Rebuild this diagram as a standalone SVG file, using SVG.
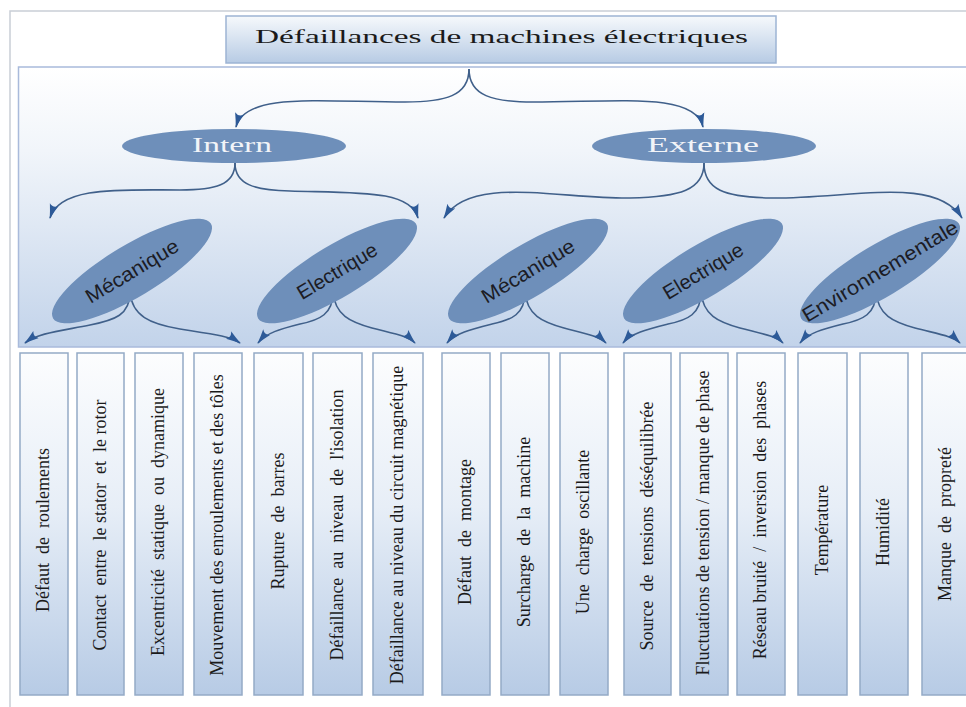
<svg xmlns="http://www.w3.org/2000/svg" width="966" height="707" viewBox="0 0 966 707">
<defs>
<linearGradient id="panelGrad" x1="0" y1="0" x2="0" y2="1">
<stop offset="0" stop-color="#ffffff"/>
<stop offset="0.3" stop-color="#f1f5fa"/>
<stop offset="1" stop-color="#c2d3ea"/>
</linearGradient>
<linearGradient id="boxGrad" x1="0" y1="0" x2="0" y2="1">
<stop offset="0" stop-color="#fcfdfe"/>
<stop offset="0.45" stop-color="#e7eef7"/>
<stop offset="1" stop-color="#b7cbe5"/>
</linearGradient>
<linearGradient id="titleGrad" x1="0" y1="0" x2="0" y2="1">
<stop offset="0" stop-color="#f6f9fc"/>
<stop offset="1" stop-color="#b7cbe4"/>
</linearGradient>
<marker id="ah" viewBox="0 0 15 10" refX="14" refY="5" markerWidth="15" markerHeight="10" markerUnits="userSpaceOnUse" orient="auto">
<path d="M0,0.5 Q7,3 15,5 Q7,7 0,9.5 Q4,5 0,0.5 Z" fill="#2d5a98"/>
</marker>
</defs>
<style>
.frame{fill:#ffffff;stroke:#c9ced6;stroke-width:1.5}
.panel{fill:url(#panelGrad);stroke:#a9badb;stroke-width:1.5}
.box{fill:url(#boxGrad);stroke:#94aac6;stroke-width:1.5}
.title{fill:url(#titleGrad);stroke:#9db4d4;stroke-width:1.5}
.ell{fill:#6e8fba}
.conn{fill:none;stroke:#40608a;stroke-width:1.6;marker-end:url(#ah)}
.bt{font-family:"Liberation Serif","Times New Roman",serif;font-size:18px;fill:#1a1a1a;text-anchor:middle;white-space:pre}
.tt{font-family:"Liberation Serif","Times New Roman",serif;font-size:18px;fill:#1a1a1a}
.et{font-family:"Liberation Serif","Times New Roman",serif;font-size:20px;fill:#f2f4f8}
.rt{font-family:"Liberation Sans",Arial,sans-serif;font-size:20px;fill:#1c1c24;text-anchor:middle}
</style>

<rect class="frame" x="10" y="11" width="970" height="710"/>
<rect class="panel" x="18.5" y="67" width="960" height="280"/>

<g id="title">
<rect class="title" x="226" y="16" width="550" height="47"/>
<text class="tt" x="255" y="43" textLength="493" lengthAdjust="spacingAndGlyphs">Défaillances de machines électriques</text>
</g>

<g id="connectors">
<path class="conn" d="M469,69 C469,96 445,102 405,102 C320,102 245,92 236,127"/>
<path class="conn" d="M469,69 C469,96 493,102 533,102 C620,102 695,92 703,127"/>
<path class="conn" d="M235,163 C235,185 215,190 180,190 C120,190 60,186 50,218"/>
<path class="conn" d="M235,163 C235,185 255,190 290,191 C360,193 410,190 418,218"/>
<path class="conn" d="M704,163 C704,190 680,197 630,198 C560,199 470,175 444,218"/>
<path class="conn" d="M704,163 C704,190 725,197 770,198 C850,199 935,175 962,218"/>
<path class="conn" d="M130,292 C130,315 115,320 90,325 C60,331 38,333 25,343"/>
<path class="conn" d="M130,292 C132,316 150,324 180,329 C212,334 230,336 240,343"/>
<path class="conn" d="M333,292 C333,314 320,320 300,324 C280,329 266,333 258,343"/>
<path class="conn" d="M333,292 C335,315 350,322 372,328 C395,334 408,336 415,343"/>
<path class="conn" d="M525,292 C525,314 512,320 492,324 C472,329 455,333 447,343"/>
<path class="conn" d="M525,292 C527,315 542,322 564,328 C587,334 599,336 606,343"/>
<path class="conn" d="M701,292 C701,314 688,320 668,324 C648,329 631,333 623,343"/>
<path class="conn" d="M701,292 C703,315 718,322 740,328 C763,334 776,336 783,343"/>
<path class="conn" d="M876,292 C876,314 863,320 843,324 C823,329 808,333 800,343"/>
<path class="conn" d="M876,292 C878,315 893,322 915,328 C938,334 953,336 960,343"/>
</g>

<g id="intern">
<ellipse class="ell" cx="234" cy="146" rx="112" ry="17"/>
<text class="et" x="192" y="152" textLength="80" lengthAdjust="spacingAndGlyphs">Intern</text>
</g>
<g id="externe">
<ellipse class="ell" cx="704" cy="146" rx="112" ry="17"/>
<text class="et" x="647" y="152" textLength="112" lengthAdjust="spacingAndGlyphs">Externe</text>
</g>

<g id="int-mecanique" transform="translate(132,271) rotate(-31)">
<ellipse class="ell" cx="0" cy="0" rx="92" ry="26"/>
<text class="rt" x="0" y="7" textLength="105" lengthAdjust="spacingAndGlyphs">Mécanique</text>
</g>
<g id="int-electrique" transform="translate(337,271) rotate(-31)">
<ellipse class="ell" cx="0" cy="0" rx="92" ry="26"/>
<text class="rt" x="0" y="7" textLength="90" lengthAdjust="spacingAndGlyphs">Electrique</text>
</g>
<g id="ext-mecanique" transform="translate(528,271) rotate(-31)">
<ellipse class="ell" cx="0" cy="0" rx="92" ry="26"/>
<text class="rt" x="0" y="7" textLength="105" lengthAdjust="spacingAndGlyphs">Mécanique</text>
</g>
<g id="ext-electrique" transform="translate(703,271) rotate(-31)">
<ellipse class="ell" cx="0" cy="0" rx="92" ry="26"/>
<text class="rt" x="0" y="7" textLength="90" lengthAdjust="spacingAndGlyphs">Electrique</text>
</g>
<g id="ext-environnementale" transform="translate(880,271) rotate(-31)">
<ellipse class="ell" cx="0" cy="0" rx="92" ry="26"/>
<text class="rt" x="0" y="7" textLength="178" lengthAdjust="spacingAndGlyphs">Environnementale</text>
</g>

<g id="b1"><rect class="box" x="20" y="353" width="48" height="342"/><text class="bt" transform="translate(49,530) rotate(-90)">Défaut  de  roulements</text></g>
<g id="b2"><rect class="box" x="77" y="353" width="47" height="342"/><text class="bt" transform="translate(105.5,525) rotate(-90)">Contact  entre  le stator  et  le rotor</text></g>
<g id="b3"><rect class="box" x="135" y="353" width="48" height="342"/><text class="bt" transform="translate(164,522) rotate(-90)">Excentricité  statique  ou  dynamique</text></g>
<g id="b4"><rect class="box" x="194" y="353" width="48" height="342"/><text class="bt" transform="translate(223,525) rotate(-90)">Mouvement des enroulements et des tôles</text></g>
<g id="b5"><rect class="box" x="254" y="353" width="49" height="342"/><text class="bt" transform="translate(283.5,521) rotate(-90)">Rupture  de  barres</text></g>
<g id="b6"><rect class="box" x="313" y="353" width="49" height="342"/><text class="bt" transform="translate(342.5,525) rotate(-90)">Défaillance  au  niveau  de  l'isolation</text></g>
<g id="b7"><rect class="box" x="373" y="353" width="50" height="342"/><text class="bt" transform="translate(403,525) rotate(-90)">Défaillance au niveau du circuit magnétique</text></g>
<g id="b8"><rect class="box" x="442" y="353" width="48" height="342"/><text class="bt" transform="translate(471,532) rotate(-90)">Défaut  de  montage</text></g>
<g id="b9"><rect class="box" x="501" y="353" width="48" height="342"/><text class="bt" transform="translate(530,532) rotate(-90)">Surcharge  de  la  machine</text></g>
<g id="b10"><rect class="box" x="560" y="353" width="48" height="342"/><text class="bt" transform="translate(589,532) rotate(-90)">Une  charge  oscillante</text></g>
<g id="b11"><rect class="box" x="624" y="353" width="47" height="342"/><text class="bt" transform="translate(652.5,526) rotate(-90)">Source  de  tensions  déséquilibrée</text></g>
<g id="b12"><rect class="box" x="680" y="353" width="48" height="342"/><text class="bt" transform="translate(709,523) rotate(-90)">Fluctuations de tension / manque de phase</text></g>
<g id="b13"><rect class="box" x="737" y="353" width="48" height="342"/><text class="bt" transform="translate(766,520) rotate(-90)">Réseau bruité  /  inversion  des  phases</text></g>
<g id="b14"><rect class="box" x="798" y="353" width="49" height="342"/><text class="bt" transform="translate(827.5,530) rotate(-90)">Température</text></g>
<g id="b15"><rect class="box" x="860" y="353" width="48" height="342"/><text class="bt" transform="translate(889,532) rotate(-90)">Humidité</text></g>
<g id="b16"><rect class="box" x="922" y="353" width="48" height="342"/><text class="bt" transform="translate(951,524) rotate(-90)">Manque  de  propreté</text></g>
</svg>
